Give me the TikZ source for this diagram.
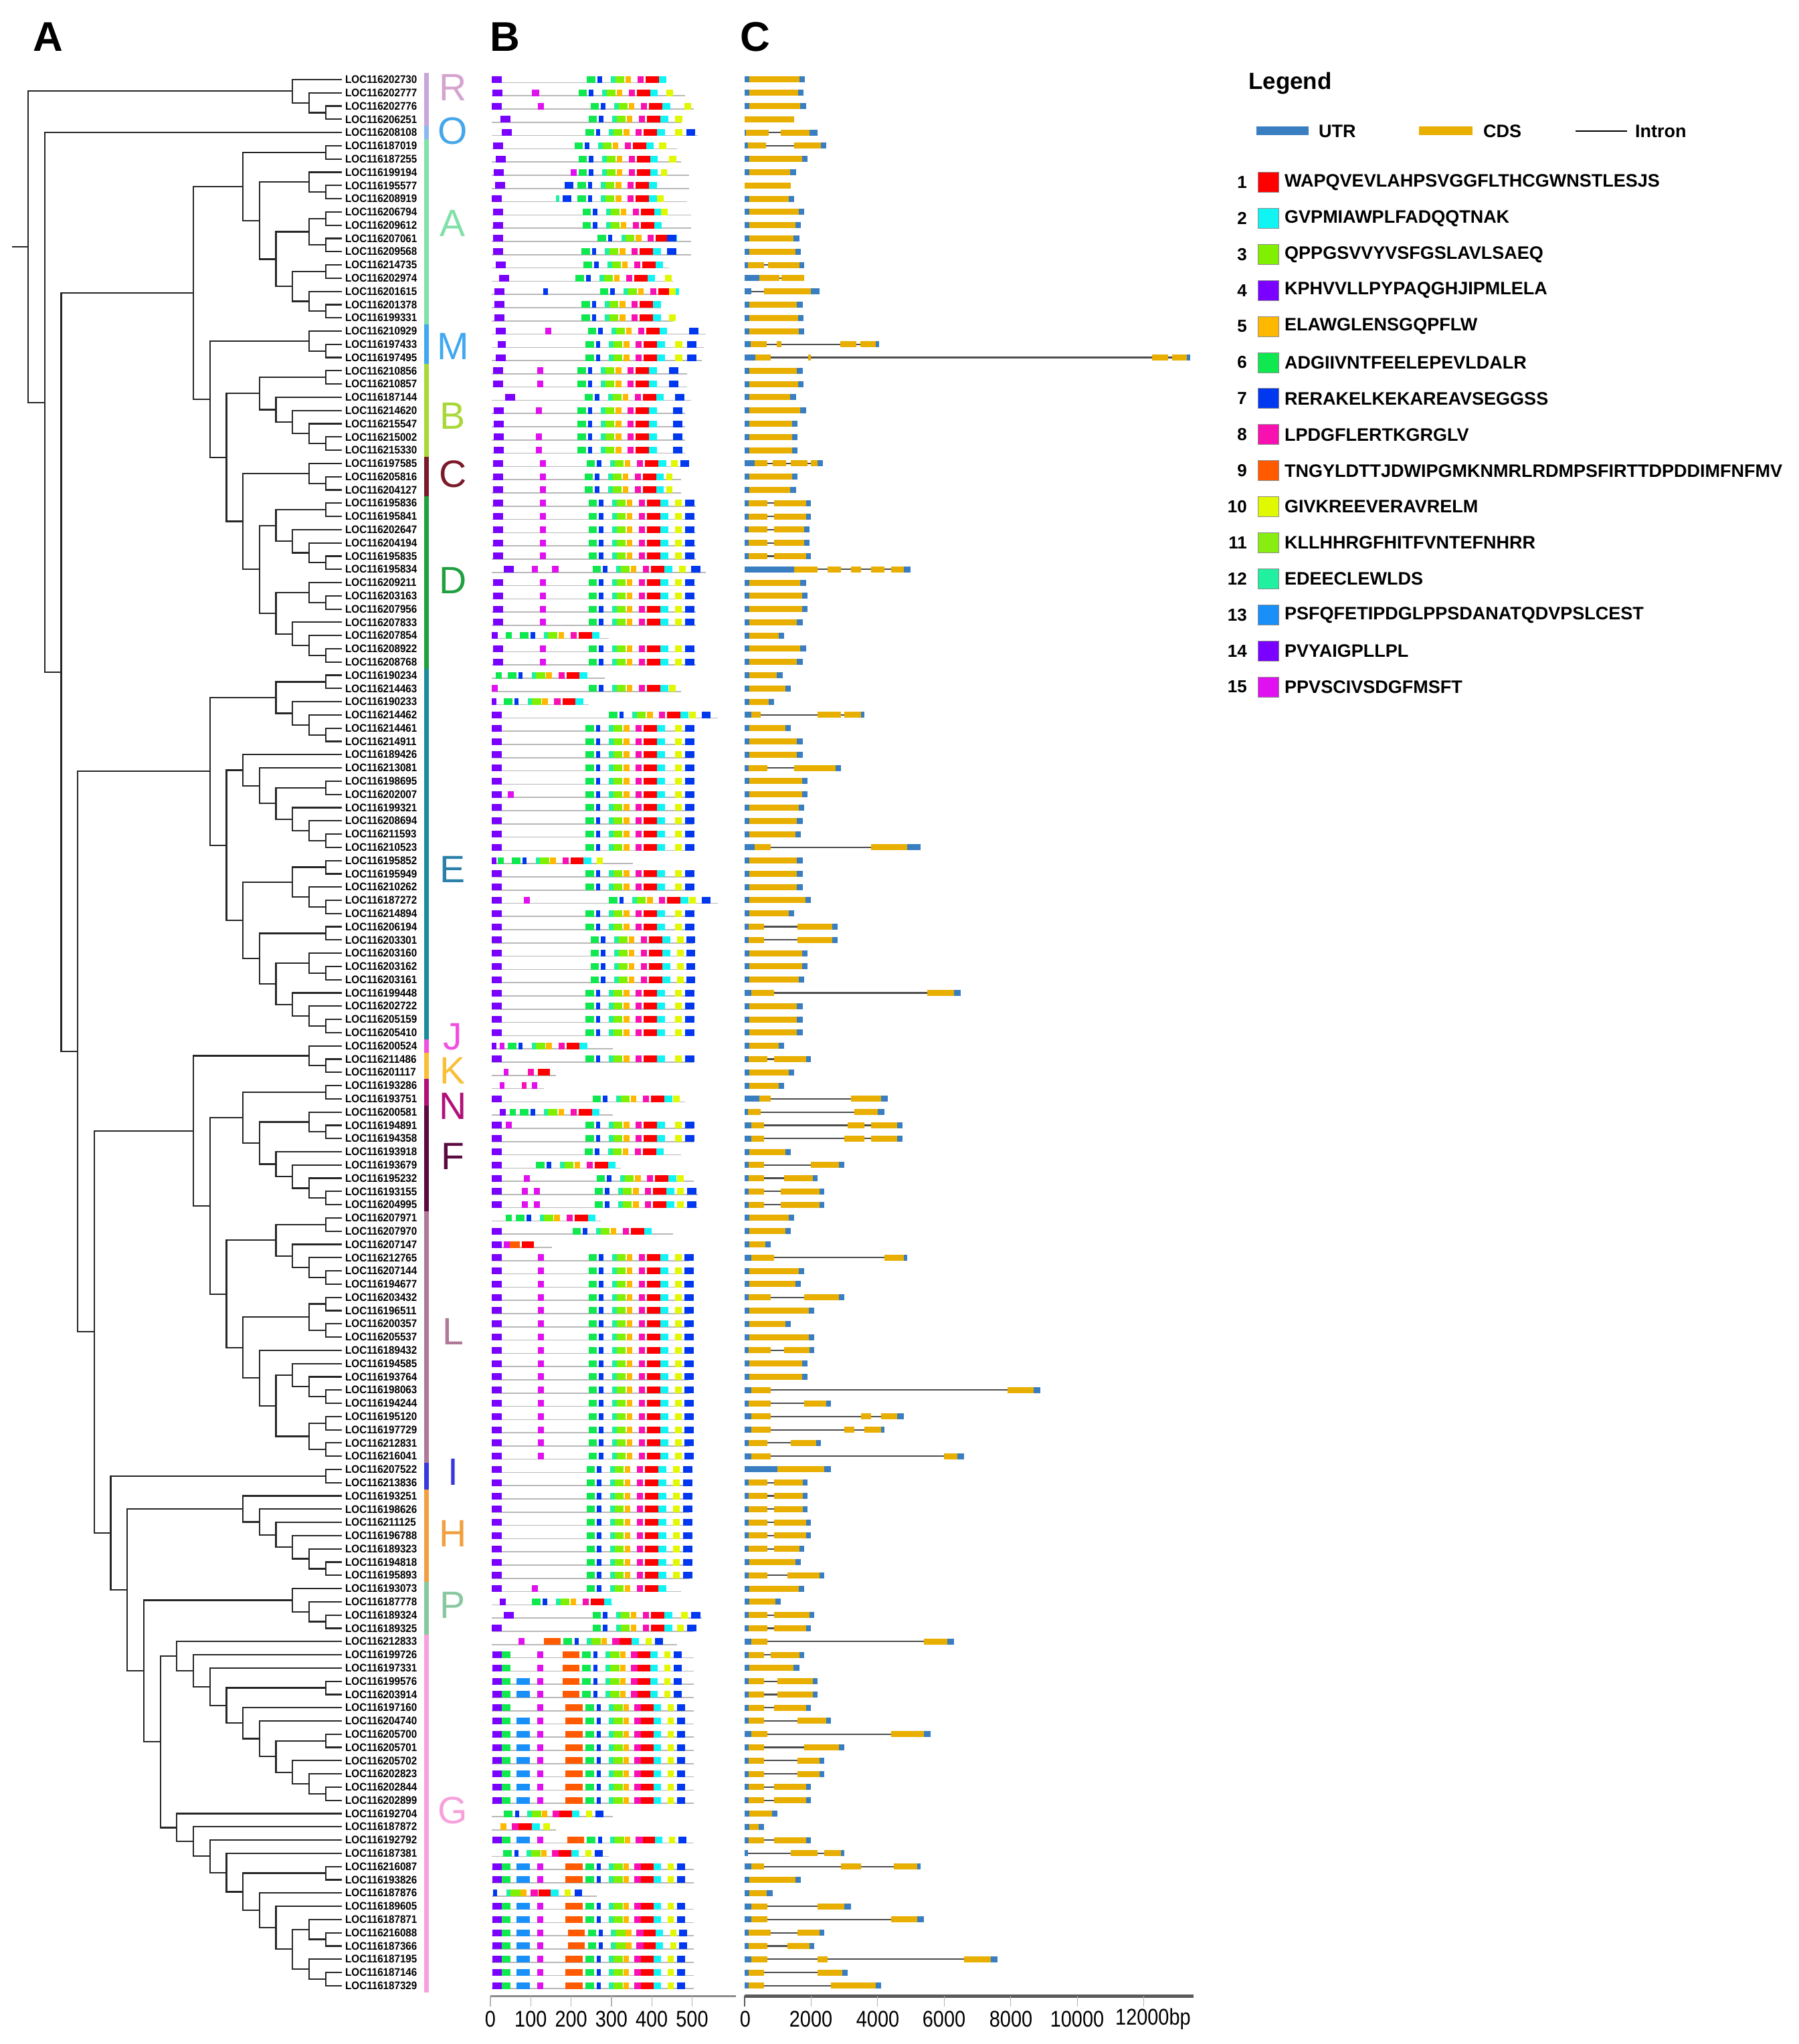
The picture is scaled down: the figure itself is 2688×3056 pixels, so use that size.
\documentclass[tikz,border=0pt]{standalone}
\usepackage{fontspec}
\setmainfont{Liberation Sans}
\usepackage{graphicx}
\usetikzlibrary{calc}
% motif colours
\definecolor{m0}{HTML}{FFFFFF}
\definecolor{m1}{HTML}{FF0000}
\definecolor{m2}{HTML}{10F4F4}
\definecolor{m3}{HTML}{80F000}
\definecolor{m4}{HTML}{7A00FF}
\definecolor{m5}{HTML}{FFB800}
\definecolor{m6}{HTML}{10E850}
\definecolor{m7}{HTML}{0038F0}
\definecolor{m8}{HTML}{F810B0}
\definecolor{m9}{HTML}{FF5A00}
\definecolor{m10}{HTML}{E0F800}
\definecolor{m11}{HTML}{88EE10}
\definecolor{m12}{HTML}{20F0A0}
\definecolor{m13}{HTML}{1890F8}
\definecolor{m14}{HTML}{7A00FF}
\definecolor{m15}{HTML}{E010F0}
\definecolor{gu}{HTML}{3A7EC2}
\definecolor{gc}{HTML}{E8AE00}
% clade colours
\definecolor{cR}{HTML}{D6A2CF}
\definecolor{cRb}{HTML}{C8A6DA}
\definecolor{cO}{HTML}{46A6EA}
\definecolor{cOb}{HTML}{8CB8F0}
\definecolor{cA}{HTML}{80E0A8}
\definecolor{cM}{HTML}{40A8F0}
\definecolor{cB}{HTML}{A8D838}
\definecolor{cC}{HTML}{7A1A2A}
\definecolor{cD}{HTML}{20A040}
\definecolor{cE}{HTML}{2A80A8}
\definecolor{cEb}{HTML}{1A8C9C}
\definecolor{cJ}{HTML}{F050E0}
\definecolor{cK}{HTML}{F8C038}
\definecolor{cN}{HTML}{B01078}
\definecolor{cF}{HTML}{5A0A40}
\definecolor{cL}{HTML}{B07898}
\definecolor{cI}{HTML}{3838E0}
\definecolor{cH}{HTML}{F0A040}
\definecolor{cP}{HTML}{88C8A0}
\definecolor{cG}{HTML}{F8A0DC}
% tree joint: name, level, child a, child b
\newcommand\jn[4]{\path ($(#3)!0.5!(#4)$) coordinate (jtmp);%
  \coordinate (#1) at (jtmp -| Lx#2);%
  \draw[br] (#3) -| (#1) |- (#4);}
% colour bar: first row, last row, colour
\newcommand\cbar[3]{\pgfmathsetmacro\ya{-(119+19.79*(#1-1))+9.9}%
  \pgfmathsetmacro\yb{-(119+19.79*(#2-1))-9.9}%
  \draw[line width=7pt,#3] (637,\ya) -- (637,\yb);}
% motif cores
\def\coreA{6/0/21,7/26/11,12/59/11,3/70/22,5/95/14,8/125/15,1/145/33,2/178/19}
\def\coreG{6/0/21,7/28/10,12/58/11,3/69/24,5/94/14,8/121/17,1/138/31,2/169/18,10/204/15,7/227/20}
\def\coreN{0/0/0}
% motif row: row, length, core, shift, extras
\newcommand\mr[5]{\pgfmathsetmacro\yy{-(119+19.79*(#1-1))}%
  \draw[line width=1.6pt,black!28] (735,\yy-4.5) -- ({735+0.603*(#2)},\yy-4.5);%
  \foreach \mm/\ms/\mw in #3 {\draw[line width=10pt,m\mm] ({735+0.603*(#4+\ms)},\yy) -- ++({0.603*\mw},0);}%
  \foreach \mm/\ms/\mw in {#5} {\draw[line width=10pt,m\mm] ({735+0.603*(\ms)},\yy) -- ++({0.603*\mw},0);}}
\newcommand\mG[2]{\pgfmathsetmacro\gnine{#2-49}\mr{#1}{500}{\coreG}{#2}{14/2/23,6/25/22,13/61/33,15/113/15,9/\gnine/42}}
\newcommand\mGn[2]{\pgfmathsetmacro\gnine{#2-49}\mr{#1}{500}{\coreG}{#2}{14/2/23,6/25/22,15/113/15,9/\gnine/42}}
% gene row: row, length (kbp), segments type/start/end
\newcommand\gn[3]{\pgfmathsetmacro\yy{-(119+19.79*(#1-1))}%
  \draw[line width=2.2pt,black!70] (1112.6,\yy) -- ({1112.6+49.75*(#2)},\yy);%
  \foreach \ga/\gb/\gd in {#3} {\draw[line width=9pt,g\ga] ({1112.6+49.75*(\gb)},\yy) -- ({1112.6+49.75*(\gd)},\yy);}}
\newcommand\gS[2]{\pgfmathsetmacro\qe{#2-0.17}\gn{#1}{#2}{u/0/0.15,c/0.15/\qe,u/\qe/#2}}
\newcommand\gI[4]{\pgfmathsetmacro\qe{#2-0.15}\gn{#1}{#2}{u/0/0.12,c/0.12/#3,c/#4/\qe,u/\qe/#2}}
\begin{document}
\begin{tikzpicture}[x=1pt,y=1pt,
  br/.style={line width=2.2pt,black!85,line join=miter},
  lab/.style={anchor=west,inner sep=0pt,font=\bfseries\fontsize{16.5}{18}\selectfont},
  clade/.style={inner sep=0pt,font=\fontsize{57}{60}\selectfont},
  panel/.style={inner sep=0pt,font=\bfseries\fontsize{62}{64}\selectfont},
  legt/.style={anchor=west,inner sep=0pt,font=\bfseries\fontsize{27}{30}\selectfont},
  legn/.style={anchor=east,inner sep=0pt,font=\bfseries\fontsize{26}{30}\selectfont},
  axl/.style={inner sep=0pt,font=\fontsize{34}{36}\selectfont}]
\useasboundingbox (0,0) rectangle (2688,-3056);
% panel letters
\node[panel] (pA) at (72,-55) {A};
\node[panel] (pB) at (755,-55) {B};
\node[panel] (pC) at (1129,-55) {C};
% level coordinates and leaves
\foreach \l in {0,...,18} {\coordinate (Lx\l) at ({42+24.7*\l},0);}
\foreach \i in {1,...,145} {\pgfmathsetmacro\yy{-(119+19.79*(\i-1))}\coordinate (r\i) at (511,\yy);}
% labels
\foreach \n [count=\i] in {202730,202777,202776,206251,208108,187019,187255,199194,195577,208919,
206794,209612,207061,209568,214735,202974,201615,201378,199331,210929,
197433,197495,210856,210857,187144,214620,215547,215002,215330,197585,
205816,204127,195836,195841,202647,204194,195835,195834,209211,203163,
207956,207833,207854,208922,208768,190234,214463,190233,214462,214461,
214911,189426,213081,198695,202007,199321,208694,211593,210523,195852,
195949,210262,187272,214894,206194,203301,203160,203162,203161,199448,
202722,205159,205410,200524,211486,201117,193286,193751,200581,194891,
194358,193918,193679,195232,193155,204995,207971,207970,207147,212765,
207144,194677,203432,196511,200357,205537,189432,194585,193764,198063,
194244,195120,197729,212831,216041,207522,213836,193251,198626,211125,
196788,189323,194818,195893,193073,187778,189324,189325,212833,199726,
197331,199576,203914,197160,204740,205700,205701,205702,202823,202844,
202899,192704,187872,192792,187381,216087,193826,187876,189605,187871,
216088,187366,187195,187146,187329}
{\pgfmathsetmacro\yy{-(119+19.79*(\i-1))}\node[lab] (t\i) at (516,\yy) {\scalebox{0.92}[1]{LOC116\n}};}
% ---- tree ----
\jn{ra}{18}{r3}{r4}\jn{rb}{17}{r2}{ra}\jn{R}{16}{r1}{rb}
\jn{a1}{18}{r6}{r7}\jn{a2}{18}{r9}{r10}\jn{a3}{17}{r8}{a2}\jn{a4}{18}{r11}{r12}\jn{a5}{18}{r13}{r14}
\jn{a6}{17}{a4}{a5}\jn{a7}{18}{r15}{r16}\jn{a8}{18}{r18}{r19}\jn{a9}{17}{r17}{a8}\jn{a10}{16}{a7}{a9}
\jn{a11}{15}{a6}{a10}\jn{a12}{14}{a3}{a11}\jn{A}{13}{a1}{a12}
\jn{m1}{18}{r21}{r22}\jn{M}{17}{r20}{m1}
\jn{b1}{18}{r23}{r24}\jn{b2}{18}{r28}{r29}\jn{b3}{17}{r27}{b2}\jn{b4}{16}{r26}{b3}\jn{b5}{15}{r25}{b4}\jn{B}{14}{b1}{b5}
\jn{c1}{18}{r31}{r32}\jn{C}{17}{r30}{c1}
\jn{d1}{18}{r33}{r34}\jn{d2}{18}{r37}{r38}\jn{d3}{17}{r36}{d2}\jn{d4}{16}{r35}{d3}\jn{d5}{15}{d1}{d4}
\jn{d6}{18}{r40}{r41}\jn{d7}{17}{r39}{d6}\jn{d8}{18}{r44}{r45}\jn{d9}{17}{r43}{d8}\jn{d10}{16}{r42}{d9}
\jn{d11}{15}{d7}{d10}\jn{D}{14}{d5}{d11}
\jn{cd}{13}{C}{D}\jn{bcd}{12}{B}{cd}\jn{mbcd}{11}{M}{bcd}\jn{P1}{10}{A}{mbcd}
\jn{e1}{18}{r46}{r47}\jn{e2}{18}{r50}{r51}\jn{e3}{17}{r49}{e2}\jn{e4}{16}{r48}{e3}\jn{E1}{15}{e1}{e4}
\jn{e5}{18}{r54}{r55}\jn{e6}{18}{r58}{r59}\jn{e7}{17}{r57}{e6}\jn{e8}{16}{r56}{e7}\jn{e9}{15}{e5}{e8}
\jn{e10}{14}{r53}{e9}\jn{E2}{13}{r52}{e10}
\jn{e11}{18}{r60}{r61}\jn{e12}{18}{r63}{r64}\jn{e13}{17}{r62}{e12}\jn{E3}{16}{e11}{e13}
\jn{e14}{18}{r65}{r66}\jn{e15}{18}{r68}{r69}\jn{e16}{17}{r67}{e15}\jn{e17}{18}{r72}{r73}\jn{e18}{17}{r71}{e17}
\jn{e19}{16}{r70}{e18}\jn{e20}{15}{e16}{e19}\jn{E4}{14}{e14}{e20}
\jn{e34}{13}{E3}{E4}\jn{e234}{12}{E2}{e34}\jn{E}{11}{E1}{e234}
\jn{k1}{18}{r75}{r76}\jn{JK}{17}{r74}{k1}
\jn{n1}{18}{r77}{r78}\jn{f1}{18}{r80}{r81}\jn{f2}{17}{r79}{f1}\jn{f3}{18}{r85}{r86}\jn{f4}{17}{r84}{f3}
\jn{f5}{16}{r83}{f4}\jn{f6}{15}{r82}{f5}\jn{f7}{14}{f2}{f6}\jn{NF}{13}{n1}{f7}
\jn{l1}{18}{r87}{r88}\jn{l2}{18}{r91}{r92}\jn{l3}{17}{r90}{l2}\jn{l4}{16}{r89}{l3}\jn{L1}{15}{l1}{l4}
\jn{l5}{18}{r93}{r94}\jn{l6}{18}{r95}{r96}\jn{l7}{17}{l5}{l6}\jn{l8}{18}{r100}{r101}\jn{l9}{17}{r99}{l8}
\jn{l10}{16}{r98}{l9}\jn{l11}{18}{r102}{r103}\jn{l12}{18}{r104}{r105}\jn{l13}{17}{l11}{l12}
\jn{l14}{15}{l10}{l13}\jn{l15}{14}{r97}{l14}\jn{l16}{13}{l7}{l15}\jn{L}{12}{L1}{l16}
\jn{nfl}{11}{NF}{L}\jn{jnfl}{10}{JK}{nfl}
\jn{I}{18}{r106}{r107}
\jn{h1}{18}{r113}{r114}\jn{h2}{17}{r112}{h1}\jn{h3}{16}{r111}{h2}\jn{h4}{15}{r110}{h3}\jn{h5}{14}{r109}{h4}\jn{H}{13}{r108}{h5}
\jn{p1}{18}{r117}{r118}\jn{p2}{17}{r116}{p1}\jn{P}{16}{r115}{p2}
\jn{g1}{18}{r130}{r131}\jn{g2}{17}{r129}{g1}\jn{g3}{16}{r128}{g2}\jn{g4}{18}{r126}{r127}\jn{g5}{15}{g4}{g3}
\jn{g6}{14}{r125}{g5}\jn{g7}{13}{r124}{g6}\jn{g8}{18}{r122}{r123}\jn{g9}{12}{g8}{g7}\jn{g10}{11}{r121}{g9}
\jn{g11}{10}{r120}{g10}\jn{G1}{9}{r119}{g11}
\jn{g12}{18}{r141}{r142}\jn{g13}{17}{r140}{g12}\jn{g14}{18}{r144}{r145}\jn{g15}{17}{r143}{g14}
\jn{g16}{16}{g13}{g15}\jn{g17}{15}{r139}{g16}\jn{g18}{14}{r138}{g17}\jn{g19}{18}{r136}{r137}
\jn{g20}{13}{g19}{g18}\jn{g21}{12}{r135}{g20}\jn{g22}{11}{r134}{g21}\jn{g23}{10}{r133}{g22}\jn{G2}{9}{r132}{g23}
\jn{G}{8}{G1}{G2}\jn{PG}{7}{P}{G}\jn{HPG}{6}{H}{PG}\jn{IH}{5}{I}{HPG}\jn{n4}{4}{jnfl}{IH}
\jn{n3}{3}{E}{n4}\jn{n2}{2}{P1}{n3}\jn{n1x}{1}{r5}{n2}\jn{root}{0}{R}{n1x}
\coordinate (rootend) at ($(root)+(-24,0)$);
\draw[br] (root) -- (rootend);
% ---- colour bars and clade letters ----
\cbar{1}{4}{cRb}\cbar{5}{5}{cOb}\cbar{6}{19}{cA}\cbar{20}{22}{cM}\cbar{23}{29}{cB}
\cbar{30}{32}{cC}\cbar{33}{45}{cD}\cbar{46}{73}{cEb}\cbar{74}{74}{cJ}\cbar{75}{76}{cK}
\cbar{77}{78}{cN}\cbar{79}{86}{cF}\cbar{87}{105}{cL}\cbar{106}{107}{cI}\cbar{108}{114}{cH}
\cbar{115}{118}{cP}\cbar{119}{145}{cG}
\node[clade,text=cR] (lR) at (677,-131) {R};
\node[clade,text=cO] (lO) at (677,-196) {O};
\node[clade,text=cA] (lA) at (677,-334) {A};
\node[clade,text=cM] (lM) at (677,-518) {M};
\node[clade,text=cB] (lB) at (677,-622) {B};
\node[clade,text=cC] (lC) at (677,-709) {C};
\node[clade,text=cD] (lD) at (677,-868) {D};
\node[clade,text=cE] (lE) at (677,-1300) {E};
\node[clade,text=cJ] (lJ) at (677,-1550) {J};
\node[clade,text=cK] (lK) at (677,-1601) {K};
\node[clade,text=cN] (lN) at (677,-1654) {N};
\node[clade,text=cF] (lF) at (677,-1729) {F};
\node[clade,text=cL] (lL) at (677,-1991) {L};
\node[clade,text=cI] (lI) at (677,-2201) {I};
\node[clade,text=cH] (lH) at (677,-2293) {H};
\node[clade,text=cP] (lP) at (677,-2400) {P};
\node[clade,text=cG] (lG) at (677,-2707) {G};
% ---- panel B: motifs ----
\mr{1}{430}{\coreA}{236}{14/0/25}
\mr{2}{480}{\coreA}{215}{14/2/25,15/100/17,10/432/17}
\mr{3}{500}{\coreA}{245}{14/0/25,15/115/15,10/478/16}
\mr{4}{470}{\coreA}{240}{14/22/25,10/455/17}
\mr{5}{510}{\coreA}{232}{14/25/25,10/455/17,7/482/22}
\mr{6}{460}{\coreA}{205}{14/3/25,10/415/17}
\mr{7}{470}{\coreA}{215}{14/10/25,10/440/18}
\mr{8}{490}{\coreA}{215}{14/5/25,15/195/15,10/420/15}
\mr{9}{490}{\coreA}{212}{14/8/25,7/180/22}
\mr{10}{485}{\coreA}{212}{14/0/25,12/160/8,7/175/22,10/410/16}
\mr{11}{495}{\coreA}{225}{14/3/25,10/420/16}
\mr{12}{495}{\coreA}{225}{14/3/25}
\mr{13}{495}{\coreA}{262}{14/3/25,7/435/22}
\mr{14}{495}{\coreA}{222}{14/3/25,7/435/22}
\mr{15}{440}{\coreA}{228}{14/10/25}
\mr{16}{450}{\coreA}{208}{14/18/25,10/430/16}
\mr{17}{440}{\coreA}{268}{14/6/25,7/127/12,10/440/16}
\mr{18}{420}{\coreA}{222}{14/6/25}
\mr{19}{450}{\coreA}{222}{14/6/25,10/440/16}
\mr{20}{530}{\coreA}{238}{14/10/25,15/133/15,7/490/22}
\mr{21}{525}{\coreA}{232}{14/15/20,10/455/17,7/485/22}
\mr{22}{520}{\coreA}{232}{14/10/25,10/455/17,7/485/22}
\mr{23}{485}{\coreA}{212}{14/3/25,15/113/15,7/440/22}
\mr{24}{485}{\coreA}{212}{14/3/25,15/113/15,7/440/22}
\mr{25}{495}{\coreA}{230}{14/33/25,7/455/22}
\mr{26}{480}{\coreA}{212}{14/5/25,15/110/15,7/450/22}
\mr{27}{480}{\coreA}{212}{14/5/25,7/450/22}
\mr{28}{480}{\coreA}{212}{14/5/25,15/110/15,7/450/22}
\mr{29}{480}{\coreA}{212}{14/5/25,15/110/15,7/450/22}
\mr{30}{480}{\coreA}{235}{14/3/25,15/120/15,10/445/16,7/468/22}
\mr{31}{470}{\coreA}{230}{14/3/25,15/120/15,10/432/16}
\mr{32}{470}{\coreA}{230}{14/3/25,15/120/15,10/432/16}
\foreach \i in {33,34,35,36,37,39,40,41,42,44,45} {\mr{\i}{505}{\coreA}{240}{14/3/25,15/120/15,10/455/16,7/480/22}}
\mr{38}{530}{\coreA}{250}{14/30/25,15/100/15,15/150/15,10/465/16,7/495/22}
\mr{43}{290}{\coreA}{70}{14/0/15,6/35/15}
\mr{46}{280}{\coreA}{40}{6/10/15}
\mr{47}{470}{\coreA}{240}{15/0/15,10/440/16}
\mr{48}{240}{\coreA}{30}{14/0/12}
\mr{49}{560}{\coreA}{290}{14/0/25,10/490/16,7/520/22}
\foreach \i in {50,51,52,53,54,56,57,58,59,61,62,64,65,70,71,72,73,75} {\mr{\i}{500}{\coreA}{232}{14/0/25,10/455/16,7/480/22}}
\mr{55}{500}{\coreA}{232}{14/0/25,15/40/15,10/455/16,7/480/22}
\mr{60}{350}{\coreA}{50}{14/0/12,6/15/15,10/260/15}
\mr{63}{560}{\coreA}{290}{14/0/25,15/80/15,10/490/16,7/520/22}
\foreach \i in {66,67,68,69} {\mr{\i}{500}{\coreA}{245}{14/0/25,10/460/16,7/482/22}}
\mr{74}{300}{\coreA}{40}{14/0/12,15/20/12}
\mr{76}{160}{\coreN}{0}{15/30/12,8/90/15,1/115/30}
\mr{77}{130}{\coreN}{0}{15/20/12,8/75/12,15/100/12}
\mr{78}{480}{\coreA}{250}{14/0/25,10/450/16}
\mr{79}{300}{\coreA}{70}{14/20/15,6/45/15}
\mr{80}{500}{\coreA}{232}{14/0/25,15/35/15,10/455/16,7/480/22}
\mr{81}{500}{\coreA}{232}{14/0/25,10/455/16,7/480/22}
\mr{82}{470}{\coreA}{230}{14/0/25}
\mr{83}{320}{\coreA}{110}{14/0/25}
\mr{84}{500}{\coreA}{260}{14/0/25,15/80/15,10/460/16}
\mr{85}{510}{\coreA}{255}{14/0/25,15/75/15,15/105/15,10/460/16,7/485/22}
\mr{86}{510}{\coreA}{255}{14/0/25,15/75/15,15/105/15,10/460/16,7/485/22}
\mr{87}{270}{\coreA}{60}{6/35/15}
\mr{88}{450}{\coreA}{200}{14/0/25}
\mr{89}{150}{\coreN}{0}{14/0/25,15/30/15,9/45/25,1/75/30}
\foreach \i in {90,...,105} {\mr{\i}{490}{\coreA}{240}{14/0/25,15/115/15,10/455/16,7/478/22}}
\foreach \i in {106,...,114} {\mr{\i}{490}{\coreA}{235}{14/0/25,10/450/16,7/475/22}}
\mr{115}{470}{\coreA}{235}{14/0/25,15/100/15}
\mr{116}{300}{\coreA}{100}{14/20/15}
\mr{117}{520}{\coreA}{250}{14/30/25,10/470/16,7/495/22}
\mr{118}{500}{\coreA}{250}{14/0/25,10/460/16,7/485/22}
\mr{119}{460}{\coreG}{178}{15/66/15,9/129/42}
\mGn{120}{224}\mGn{121}{224}\mG{122}{224}\mG{123}{224}\mGn{124}{232}
\foreach \i in {125,...,131} {\mG{\i}{232}}
\mr{132}{300}{\coreG}{30}{0/0/0}
\mr{133}{160}{\coreN}{0}{5/22/15,8/50/16,1/66/33,2/99/20,10/127/17}
\mG{134}{236}
\mr{135}{290}{\coreG}{28}{0/0/0}
\mG{136}{232}\mG{137}{232}
\mr{138}{260}{\coreN}{0}{7/3/10,12/36/10,3/46/25,5/72/14,8/96/18,1/116/30,2/146/19,10/180/16,7/205/19}
\mG{139}{232}\mG{140}{232}\mG{141}{238}\mG{142}{238}\mG{143}{232}\mG{144}{232}\mG{145}{232}
% ---- panel C: gene structures ----
\gS{1}{1.82}\gS{2}{1.78}\gS{3}{1.85}\gn{4}{1.5}{c/0/1.5}
\gn{5}{2.2}{u/0/0.05,c/0.05/0.73,c/1.1/1.95,u/1.95/2.2}
\gn{6}{2.45}{u/0/0.1,c/0.1/0.66,c/1.5/2.3,u/2.3/2.45}
\gS{7}{1.9}\gS{8}{1.55}\gn{9}{1.4}{c/0/1.4}\gS{10}{1.5}\gS{11}{1.8}\gS{12}{1.7}\gS{13}{1.65}\gS{14}{1.7}
\gn{15}{1.8}{u/0/0.1,c/0.1/0.6,c/0.72/1.65,u/1.65/1.8}
\gn{16}{1.8}{u/0/0.45,c/0.45/1.05,c/1.12/1.8}
\gn{17}{2.25}{u/0/0.2,c/0.6/2.0,u/2.0/2.25}
\gS{18}{1.75}\gS{19}{1.78}\gS{20}{1.8}
\gn{21}{4.05}{u/0/0.19,c/0.19/0.67,c/0.98/1.12,c/2.88/3.36,c/3.48/3.95,u/3.95/4.05}
\gn{22}{13.4}{u/0/0.33,c/0.33/0.79,c/1.92/2.0,c/12.25/12.73,c/12.85/13.3,u/13.3/13.4}
\gS{23}{1.75}\gS{24}{1.78}\gS{25}{1.55}\gS{26}{1.85}\gS{27}{1.6}\gS{28}{1.6}\gS{29}{1.6}
\gn{30}{2.35}{u/0/0.3,c/0.3/0.7,c/0.85/1.25,c/1.4/1.9,c/2.0/2.2,u/2.2/2.35}
\gS{31}{1.6}\gS{32}{1.55}
\gI{33}{2.0}{0.7}{0.9}\gI{34}{2.0}{0.7}{0.9}\gI{35}{1.95}{0.7}{0.9}\gI{36}{1.95}{0.7}{0.9}\gI{37}{2.0}{0.7}{0.9}
\gn{38}{5.0}{u/0/1.5,c/1.5/2.2,c/2.5/2.9,c/3.2/3.5,c/3.8/4.2,c/4.4/4.8,u/4.8/5.0}
\gS{39}{1.85}\gS{40}{1.9}\gS{41}{1.9}\gS{42}{1.75}\gS{43}{1.2}\gS{44}{1.85}\gS{45}{1.75}
\gS{46}{1.15}\gS{47}{1.4}\gS{48}{0.9}
\gn{49}{3.6}{u/0/0.2,c/0.2/0.5,c/2.2/2.9,c/3.0/3.5,u/3.5/3.6}
\gS{50}{1.4}\gS{51}{1.75}\gS{52}{1.75}\gI{53}{2.9}{0.7}{1.5}
\gS{54}{1.9}\gS{55}{1.9}\gS{56}{1.8}\gS{57}{1.75}\gS{58}{1.7}
\gn{59}{5.3}{u/0/0.3,c/0.3/0.8,c/3.8/4.9,u/4.9/5.3}
\gS{60}{1.75}\gS{61}{1.75}\gS{62}{1.75}\gS{63}{2.0}\gS{64}{1.5}
\gI{65}{2.8}{0.6}{1.6}\gI{66}{2.8}{0.6}{1.6}
\gS{67}{1.9}\gS{68}{1.9}\gS{69}{1.8}
\gn{70}{6.5}{u/0/0.2,c/0.2/0.9,c/5.5/6.3,u/6.3/6.5}
\gS{71}{1.75}\gS{72}{1.75}\gS{73}{1.75}\gS{74}{1.2}\gI{75}{2.0}{0.7}{0.9}\gS{76}{1.5}\gS{77}{1.2}
\gn{78}{4.3}{u/0/0.45,c/0.45/0.8,c/3.2/4.1,u/4.1/4.3}
\gn{79}{4.2}{u/0/0.1,c/0.1/0.5,c/3.3/4.0,u/4.0/4.2}
\gn{80}{4.75}{u/0/0.2,c/0.2/0.6,c/3.1/3.6,c/3.8/4.6,u/4.6/4.75}
\gn{81}{4.75}{u/0/0.2,c/0.2/0.6,c/3.0/3.6,c/3.8/4.6,u/4.6/4.75}
\gS{82}{1.4}\gI{83}{3.0}{0.6}{2.0}\gI{84}{2.2}{0.6}{1.2}\gI{85}{2.4}{0.6}{1.1}\gI{86}{2.4}{0.6}{1.1}
\gS{87}{1.5}\gS{88}{1.4}\gS{89}{0.8}
\gn{90}{4.9}{u/0/0.2,c/0.2/0.9,c/4.2/4.8,u/4.8/4.9}
\gS{91}{1.8}\gS{92}{1.7}\gI{93}{3.0}{0.8}{1.8}\gS{94}{2.1}\gS{95}{1.4}\gS{96}{2.1}
\gI{97}{2.1}{0.8}{1.2}\gS{98}{1.9}\gS{99}{1.9}
\gn{100}{8.9}{u/0/0.2,c/0.2/0.8,c/7.9/8.7,u/8.7/8.9}
\gI{101}{2.6}{0.8}{1.8}
\gn{102}{4.8}{u/0/0.2,c/0.2/0.8,c/3.5/3.8,c/4.1/4.6,u/4.6/4.8}
\gn{103}{4.2}{u/0/0.2,c/0.2/0.8,c/3.0/3.3,c/3.6/4.1,u/4.1/4.2}
\gI{104}{2.3}{0.7}{1.4}
\gn{105}{6.6}{u/0/0.2,c/0.2/0.8,c/6.0/6.4,u/6.4/6.6}
\gn{106}{2.6}{u/0/1.0,c/1.0/2.4,u/2.4/2.6}
\gI{107}{1.9}{0.7}{0.9}\gI{108}{1.9}{0.7}{0.9}\gI{109}{1.9}{0.7}{0.9}\gI{110}{2.0}{0.7}{0.9}
\gI{111}{2.0}{0.7}{0.9}\gI{112}{1.8}{0.7}{0.9}\gS{113}{1.7}\gI{114}{2.4}{0.7}{1.3}
\gS{115}{1.8}\gS{116}{1.1}\gI{117}{2.1}{0.7}{0.9}\gI{118}{2.0}{0.7}{0.9}
\gn{119}{6.3}{u/0/0.2,c/0.2/0.7,c/5.4/6.1,u/6.1/6.3}
\gI{120}{1.8}{0.6}{0.8}\gS{121}{1.65}\gI{122}{2.2}{0.6}{1.0}\gI{123}{2.2}{0.6}{1.0}
\gI{124}{2.0}{0.6}{0.9}\gI{125}{2.6}{0.6}{1.6}
\gn{126}{5.6}{u/0/0.2,c/0.2/0.7,c/4.4/5.4,u/5.4/5.6}
\gI{127}{3.0}{0.6}{1.8}\gI{128}{2.4}{0.6}{1.6}\gI{129}{2.4}{0.6}{1.6}\gI{130}{2.0}{0.6}{0.9}\gI{131}{2.0}{0.6}{0.9}
\gS{132}{1.0}\gS{133}{0.6}\gI{134}{2.0}{0.6}{0.9}
\gn{135}{3.0}{u/0/0.1,c/1.4/2.2,c/2.4/2.9,u/2.9/3.0}
\gn{136}{5.3}{u/0/0.2,c/0.2/0.6,c/2.9/3.5,c/4.5/5.2,u/5.2/5.3}
\gS{137}{1.7}\gS{138}{0.85}
\gn{139}{3.2}{u/0/0.2,c/0.2/0.7,c/2.2/3.0,u/3.0/3.2}
\gn{140}{5.4}{u/0/0.2,c/0.2/0.7,c/4.4/5.2,u/5.2/5.4}
\gI{141}{2.4}{0.8}{1.6}\gI{142}{2.1}{0.7}{1.3}
\gn{143}{7.6}{u/0/0.2,c/0.2/0.7,c/2.2/2.5,c/6.6/7.4,u/7.4/7.6}
\gI{144}{3.1}{0.6}{2.2}\gI{145}{4.1}{0.6}{2.6}
% ---- axes ----
\coordinate (ma0) at (733,-2984); \coordinate (ma1) at (1100,-2984);
\draw[line width=3pt,black!45] (ma0) -- (ma1);
\foreach \k in {0,...,5} {\pgfmathsetmacro\xx{733+60.3*\k}\pgfmathtruncatemacro\vv{100*\k}
  \draw[line width=1.2pt,black!30] (\xx,-2984) -- (\xx,-3000);
  \node[axl] (ml\k) at (\xx,-3019) {\scalebox{0.85}[1]{\vv}};}
\coordinate (ga0) at (1112.6,-2984); \coordinate (ga1) at (1784,-2984);
\draw[line width=5pt,black!65] (ga0) -- (ga1);
\draw[line width=2pt,black!65] (1112.6,-2984) -- (1112.6,-3000);
\foreach \k in {1,...,6} {\pgfmathsetmacro\xx{1112.6+99.5*\k}
  \draw[line width=1.2pt,black!30] (\xx,-2984) -- (\xx,-3000);}
\node[axl] (gl0) at (1114,-3019) {\scalebox{0.85}[1]{0}};
\node[axl] (gl1) at (1212,-3019) {\scalebox{0.85}[1]{2000}};
\node[axl] (gl2) at (1312,-3019) {\scalebox{0.85}[1]{4000}};
\node[axl] (gl3) at (1411,-3019) {\scalebox{0.85}[1]{6000}};
\node[axl] (gl4) at (1511,-3019) {\scalebox{0.85}[1]{8000}};
\node[axl] (gl5) at (1610,-3019) {\scalebox{0.85}[1]{10000}};
\node[axl,anchor=west] (gl6) at (1667,-3019) {\scalebox{0.85}[1]{12000bp}};
% ---- legend ----
\node[anchor=west,inner sep=0pt,font=\bfseries\fontsize{35}{40}\selectfont] (leg) at (1866,-125) {Legend};
\coordinate (u0) at (1878,-196); \coordinate (u1) at (1956,-196);
\draw[line width=13pt,gu] (u0) -- (u1);
\node[legt] (lu) at (1971,-196) {UTR};
\coordinate (c0) at (2121,-196); \coordinate (c1x) at (2201,-196);
\draw[line width=13pt,gc] (c0) -- (c1x);
\node[legt] (lc) at (2217,-196) {CDS};
\coordinate (i0) at (2355,-196); \coordinate (i1) at (2432,-196);
\draw[line width=2.5pt,black] (i0) -- (i1);
\node[legt] (li) at (2444,-196) {Intron};
\foreach \t [count=\k] in {WAPQVEVLAHPSVGGFLTHCGWNSTLESJS,GVPMIAWPLFADQQTNAK,QPPGSVVYVSFGSLAVLSAEQ,
 KPHVVLLPYPAQGHJIPMLELA,ELAWGLENSGQPFLW,ADGIIVNTFEELEPEVLDALR,RERAKELKEKAREAVSEGGSS,
 LPDGFLERTKGRGLV,TNGYLDTTJDWIPGMKNMRLRDMPSFIRTTDPDDIMFNFMV,GIVKREEVERAVRELM,
 KLLHHRGFHITFVNTEFNHRR,EDEECLEWLDS,PSFQFETIPDGLPPSDANATQDVPSLCEST,PVYAIGPLLPL,PPVSCIVSDGFMSFT}
 {\pgfmathsetmacro\yy{-(272.5+53.9*(\k-1))}
  \node[legn] (mn\k) at (1864,\yy) {\k};
  \draw[black!45,line width=1pt,fill=m\k] (1880,\yy-15) rectangle (1911,\yy+15);
  \node[legt] (mt\k) at (1920,\yy) {\t};}
\end{tikzpicture}
\end{document}
